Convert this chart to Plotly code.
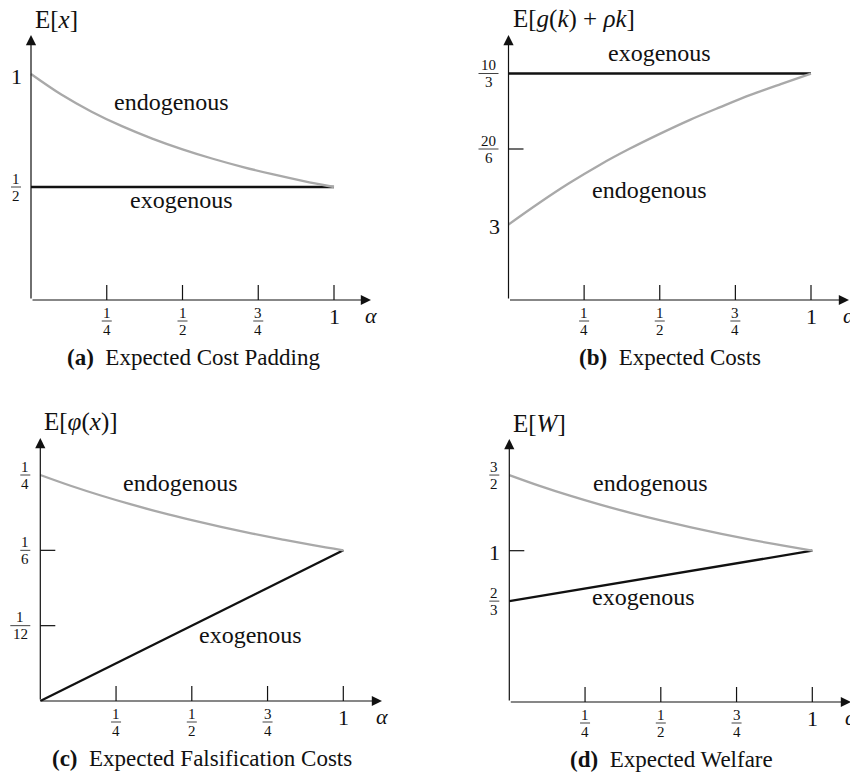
import plotly.graph_objects as go

# ---------------- data ----------------
alpha = [0.0, 0.1, 0.2, 0.3, 0.4, 0.5, 0.6, 0.7, 0.8, 0.9, 1.0]
alpha_ends = [0.0, 1.0]

padding_endo = [1.0000, 0.9091, 0.8333, 0.7692, 0.7143, 0.6667, 0.6250, 0.5882, 0.5556, 0.5263, 0.5000]
padding_exo = [0.5, 0.5]

costs_endo = [3.000, 3.047, 3.091, 3.131, 3.167, 3.200, 3.231, 3.259, 3.286, 3.310, 3.333]
costs_exo = [10 / 3, 10 / 3]

falsif_endo = [0.2500, 0.2381, 0.2273, 0.2174, 0.2083, 0.2000, 0.1923, 0.1852, 0.1786, 0.1724, 0.1667]
falsif_exo = [0.0, 1 / 6]

welfare_endo = [1.5000, 1.4286, 1.3636, 1.3043, 1.2500, 1.2000, 1.1538, 1.1111, 1.0714, 1.0345, 1.0000]
welfare_exo = [2 / 3, 1.0]

x_ticks = [0.25, 0.5, 0.75, 1.0]
x_tick_labels = ["1/4", "1/2", "3/4", "1"]

padding_ticks = [0.5, 1.0]
padding_tick_labels = ["1/2", "1"]
padding_tick_marks = []

costs_ticks = [3.0, 19 / 6, 10 / 3]
costs_tick_labels = ["3", "20/6", "10/3"]
costs_tick_marks = [19 / 6]

falsif_ticks = [1 / 12, 1 / 6, 1 / 4]
falsif_tick_labels = ["1/12", "1/6", "1/4"]
falsif_tick_marks = [1 / 12, 1 / 6]

welfare_ticks = [2 / 3, 1.0, 1.5]
welfare_tick_labels = ["2/3", "1", "3/2"]
welfare_tick_marks = [1.0]

y_titles = ["E[<i>x</i>]", "E[<i>g</i>(<i>k</i>) + <i>ρk</i>]",
            "E[<i>φ</i>(<i>x</i>)]", "E[<i>W</i>]"]
captions = [("(a)", "Expected Cost Padding"), ("(b)", "Expected Costs"),
            ("(c)", "Expected Falsification Costs"), ("(d)", "Expected Welfare")]
endo_label_pos = [(0.465, 0.876), (0.467, 3.076), (0.464, 0.2408), (0.466, 1.445)]
exo_label_pos = [(0.498, 0.442), (0.500, 3.378), (0.694, 0.073), (0.444, 0.692)]

# ---------------- layout geometry (window pixels) ----------------
OFF = 8  # the page body has an 8px margin; compensate so the figure lands where intended
W, H = 858 - OFF, 776 - OFF
panels = [
    dict(ox=31.0, oy=300.0, ux=303.0, uy=226.0, v0=0.0, xtip=371.0, ytop=35.0, q=(0, 429, 0, 388)),
    dict(ox=508.5, oy=300.0, ux=302.5, uy=453.0, v0=17 / 6, xtip=849.0, ytop=35.0, q=(429, 858, 0, 388)),
    dict(ox=40.3, oy=701.0, ux=303.0, uy=904.0, v0=0.0, xtip=382.0, ytop=438.0, q=(0, 429, 388, 776)),
    dict(ox=509.3, oy=702.0, ux=303.0, uy=151.3, v0=0.0, xtip=851.0, ytop=439.0, q=(429, 858, 388, 776)),
]
series = [
    (padding_endo, padding_exo, padding_ticks, padding_tick_labels, padding_tick_marks),
    (costs_endo, costs_exo, costs_ticks, costs_tick_labels, costs_tick_marks),
    (falsif_endo, falsif_exo, falsif_ticks, falsif_tick_labels, falsif_tick_marks),
    (welfare_endo, welfare_exo, welfare_ticks, welfare_tick_labels, welfare_tick_marks),
]

FONT = "Liberation Serif, Times New Roman, serif"
INK = "#111111"
GRAY = "#a9a9a9"
BIG = 22
SMALL = 15
LBL = 24

fig = go.Figure()
annotations = []
shapes = []
layout = {}

for i, (p, (endo, exo, yt, ytl, ytm)) in enumerate(zip(panels, series)):
    n = "" if i == 0 else str(i + 1)
    xr, yr = "x" + n, "y" + n
    qx0, qx1, qy0, qy1 = [c - OFF for c in p["q"]]
    qx0, qy0 = max(qx0, 0), max(qy0, 0)
    ox, oy = p["ox"] - OFF, p["oy"] - OFF
    ux, uy, v0 = p["ux"], p["uy"], p["v0"]
    layout["xaxis" + n] = dict(domain=[qx0 / W, min(qx1 / W, 1)],
                               range=[(qx0 - ox) / ux, (min(qx1, W) - ox) / ux],
                               visible=False, fixedrange=True)
    layout["yaxis" + n] = dict(domain=[max(1 - qy1 / H, 0), 1 - qy0 / H],
                               range=[v0 - (min(qy1, H) - oy) / uy, v0 + (oy - qy0) / uy],
                               visible=False, fixedrange=True)
    xmax = (p["xtip"] - OFF - ox) / ux
    ymax = v0 + (oy - (p["ytop"] - OFF)) / uy

    # curves
    fig.add_trace(go.Scatter(x=alpha_ends, y=exo, mode="lines", xaxis=xr, yaxis=yr,
                             line=dict(color=INK, width=2.3), hoverinfo="skip", showlegend=False))
    fig.add_trace(go.Scatter(x=alpha, y=endo, mode="lines", xaxis=xr, yaxis=yr,
                             line=dict(color=GRAY, width=2.3, shape="spline"),
                             hoverinfo="skip", showlegend=False))

    # axes with arrows
    for (tx, ty) in [(xmax, v0), (0, ymax)]:
        annotations.append(dict(x=tx, y=ty, ax=0, ay=v0, xref=xr, yref=yr, axref=xr, ayref=yr,
                                text="", showarrow=True, arrowhead=2, arrowsize=1.7,
                                arrowwidth=1.2, arrowcolor=INK, standoff=0, startstandoff=0))

    # x tick marks and labels
    for v, lab in zip(x_ticks, x_tick_labels):
        shapes.append(dict(type="line", xref=xr, yref=yr, x0=v, x1=v, ysizemode="pixel",
                           yanchor=v0, y0=0, y1=15, line=dict(color=INK, width=1.2)))
        if "/" in lab:
            num, den = lab.split("/")
            annotations.append(dict(x=v, y=v0, xref=xr, yref=yr, text=num, showarrow=False,
                                    xanchor="center", yanchor="middle", yshift=-13,
                                    font=dict(family=FONT, size=SMALL, color=INK)))
            annotations.append(dict(x=v, y=v0, xref=xr, yref=yr, text=den, showarrow=False,
                                    xanchor="center", yanchor="middle", yshift=-29.5,
                                    font=dict(family=FONT, size=SMALL, color=INK)))
            shapes.append(dict(type="line", xref=xr, yref=yr, xsizemode="pixel", xanchor=v,
                               x0=-5, x1=5, ysizemode="pixel", yanchor=v0, y0=-21, y1=-21,
                               line=dict(color=INK, width=0.8)))
        else:
            annotations.append(dict(x=v, y=v0, xref=xr, yref=yr, text=lab, showarrow=False,
                                    xanchor="center", yanchor="middle", yshift=-16,
                                    font=dict(family=FONT, size=BIG, color=INK)))
    annotations.append(dict(x=xmax, y=v0, xref=xr, yref=yr, text="<i>α</i>", showarrow=False,
                            xanchor="center", yanchor="middle", yshift=-15,
                            font=dict(family=FONT, size=BIG, color=INK)))

    # y tick marks and labels
    for v in ytm:
        shapes.append(dict(type="line", xref=xr, yref=yr, xsizemode="pixel", xanchor=0,
                           x0=0, x1=15, y0=v, y1=v, line=dict(color=INK, width=1.2)))
    for v, lab in zip(yt, ytl):
        if "/" in lab:
            num, den = lab.split("/")
            bw = 10 if max(len(num), len(den)) == 1 else 20
            cx = -(10 + bw / 2)
            annotations.append(dict(x=0, y=v, xref=xr, yref=yr, text=num, showarrow=False,
                                    xanchor="center", yanchor="middle", xshift=cx, yshift=8.5,
                                    font=dict(family=FONT, size=SMALL, color=INK)))
            annotations.append(dict(x=0, y=v, xref=xr, yref=yr, text=den, showarrow=False,
                                    xanchor="center", yanchor="middle", xshift=cx, yshift=-8.5,
                                    font=dict(family=FONT, size=SMALL, color=INK)))
            shapes.append(dict(type="line", xref=xr, yref=yr, xsizemode="pixel", xanchor=0,
                               x0=-(10 + bw), x1=-10, y0=v, y1=v,
                               line=dict(color=INK, width=0.8)))
        else:
            annotations.append(dict(x=0, y=v, xref=xr, yref=yr, text=lab, showarrow=False,
                                    xanchor="right", yanchor="middle", xshift=-7, yshift=-2,
                                    font=dict(family=FONT, size=BIG, color=INK)))

    # y title
    annotations.append(dict(x=0, y=ymax, xref=xr, yref=yr, text=y_titles[i], showarrow=False,
                            xanchor="left", yanchor="middle", xshift=2, yshift=16,
                            font=dict(family=FONT, size=25, color=INK)))

    # series labels
    for (lx, ly), txt in [(endo_label_pos[i], "endogenous"), (exo_label_pos[i], "exogenous")]:
        annotations.append(dict(x=lx, y=ly, xref=xr, yref=yr, text=txt, showarrow=False,
                                xanchor="center", yanchor="middle",
                                font=dict(family=FONT, size=LBL, color=INK)))

    # caption
    tag, cap = captions[i]
    annotations.append(dict(x=0.535, y=v0, xref=xr, yref=yr,
                            text="<b>" + tag + "</b>\u2002" + cap, showarrow=False,
                            xanchor="center", yanchor="middle", yshift=-57,
                            font=dict(family=FONT, size=23, color=INK)))

fig.update_layout(width=W, height=H, autosize=False,
                  margin=dict(l=0, r=0, t=0, b=0),
                  paper_bgcolor="white", plot_bgcolor="rgba(0,0,0,0)",
                  annotations=annotations, shapes=shapes, **layout)
fig.write_html("out.html")
